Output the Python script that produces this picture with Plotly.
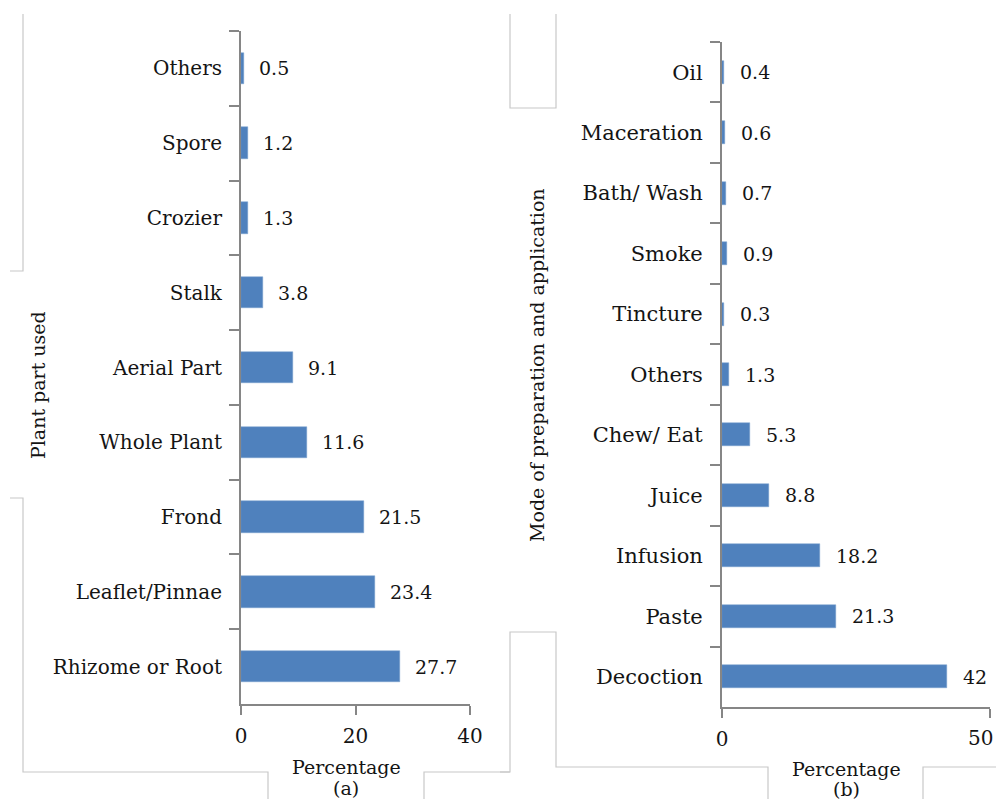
import plotly.graph_objects as go

# browser body has an 8px margin; the visible figure area is (8, 8)-(996, 799)
OFF = 8
W, H = 1004 - 2 * OFF, 807 - 2 * OFF

# ---- Data ----
parts = ["Others", "Spore", "Crozier", "Stalk", "Aerial Part", "Whole Plant",
         "Frond", "Leaflet/Pinnae", "Rhizome or Root"]
parts_pct = [0.5, 1.2, 1.3, 3.8, 9.1, 11.6, 21.5, 23.4, 27.7]

modes = ["Oil", "Maceration", "Bath/ Wash", "Smoke", "Tincture", "Others",
         "Chew/ Eat", "Juice", "Infusion", "Paste", "Decoction"]
modes_pct = [0.4, 0.6, 0.7, 0.9, 0.3, 1.3, 5.3, 8.8, 18.2, 21.3, 42]

ticks_a = [0, 20, 40]
ticks_b = [0, 50]

FONT = "DejaVu Serif"
BAR = "#4f81bd"
AXIS = "#868686"
FRAME = "#c8c8c8"
TXT = "#141414"


def px(x):
    return (x - OFF) / W


def py(y):
    return 1 - (y - OFF) / H


fig = go.Figure()

fig.add_trace(go.Bar(
    x=parts_pct, y=parts, orientation="h", width=0.42,
    marker=dict(color=BAR, line=dict(color="#7aa0cf", width=0.5)),
    xaxis="x", yaxis="y", showlegend=False, hoverinfo="skip"))

fig.add_trace(go.Bar(
    x=modes_pct, y=modes, orientation="h", width=0.38,
    marker=dict(color=BAR, line=dict(color="#7aa0cf", width=0.5)),
    xaxis="x2", yaxis="y2", showlegend=False, hoverinfo="skip"))

annotations = []
for v, c in zip(parts_pct, parts):
    annotations.append(dict(x=v, y=c, xref="x", yref="y", text=f"{v:g}",
                            showarrow=False, xanchor="left", xshift=13,
                            font=dict(family=FONT, size=19, color=TXT)))
for v, c in zip(modes_pct, modes):
    annotations.append(dict(x=v, y=c, xref="x2", yref="y2", text=f"{v:g}",
                            showarrow=False, xanchor="left", xshift=14,
                            font=dict(family=FONT, size=19, color=TXT)))

# last tick label of panel (b) sits at the right page edge: anchor it inside
annotations.append(dict(x=ticks_b[-1], y=py(738), xref="x2", yref="paper",
                        text=f"{ticks_b[-1]}", showarrow=False,
                        xanchor="right", yanchor="middle", xshift=5,
                        font=dict(family=FONT, size=20, color=TXT)))

# axis titles
ttl = dict(family=FONT, size=19, color=TXT)
annotations += [
    dict(x=px(346), y=py(767), xref="paper", yref="paper", text="Percentage",
         xanchor="center", yanchor="middle", showarrow=False, font=ttl),
    dict(x=px(346), y=py(788), xref="paper", yref="paper", text="(a)",
         xanchor="center", yanchor="middle", showarrow=False, font=ttl),
    dict(x=px(846), y=py(769), xref="paper", yref="paper", text="Percentage",
         xanchor="center", yanchor="middle", showarrow=False, font=ttl),
    dict(x=px(846), y=py(789), xref="paper", yref="paper", text="(b)",
         xanchor="center", yanchor="middle", showarrow=False, font=ttl),
    dict(x=px(38), y=py(385), xref="paper", yref="paper", text="Plant part used",
         textangle=-90, xanchor="center", yanchor="middle", showarrow=False,
         font=ttl),
    dict(x=px(537), y=py(365), xref="paper", yref="paper",
         text="Mode of preparation and application", textangle=-90,
         xanchor="center", yanchor="middle", showarrow=False, font=ttl),
]

# decorative frame fragments (cropped boxes in the source image)
segments = [
    [(23, 14), (23, 271), (10, 271)],
    [(10, 498), (23, 498), (23, 772), (268, 772), (268, 807)],
    [(424, 807), (424, 772), (510, 772), (510, 632), (556, 632), (556, 767),
     (768, 767), (768, 807)],
    [(500, 772), (510, 772)],
    [(510, 14), (510, 108), (556, 108), (556, 14)],
    [(923, 807), (923, 767), (1004, 767)],
]
shapes = []
for seg in segments:
    path = "M " + " L ".join(f"{px(x)},{py(y)}" for x, y in seg)
    shapes.append(dict(type="path", xref="paper", yref="paper", path=path,
                       line=dict(color=FRAME, width=1.2), layer="below"))

tf_a = dict(family=FONT, size=20, color=TXT)
tf_b = dict(family=FONT, size=21, color=TXT)

common_x = dict(showgrid=False, zeroline=False, showline=True, linecolor=AXIS,
                linewidth=2, ticks="outside", ticklen=9, tickcolor=AXIS,
                tickwidth=2, automargin=False, fixedrange=True,
                ticklabelstandoff=4)
common_y = dict(showgrid=False, zeroline=False, showline=True, linecolor=AXIS,
                linewidth=2, ticks="outside", ticklen=10, tickcolor=AXIS,
                tickwidth=2, tickson="boundaries", automargin=False,
                fixedrange=True, ticklabelstandoff=13,
                autorange="reversed", categoryorder="array")

fig.update_layout(
    width=W, height=H,
    margin=dict(l=0, r=0, t=0, b=0),
    paper_bgcolor="white", plot_bgcolor="white",
    bargap=0,
    annotations=annotations,
    shapes=shapes,
    xaxis=dict(domain=[px(241), px(470)], range=[0, 40], tickvals=ticks_a,
               tickfont=tf_a, anchor="y", **common_x),
    yaxis=dict(domain=[py(704), py(31)], categoryarray=parts,
               tickfont=tf_a, anchor="x", **common_y),
    xaxis2=dict(domain=[px(722), px(990)], range=[0, 50], tickvals=ticks_b,
                ticktext=[str(t) for t in ticks_b[:-1]] + [" "],
                tickfont=tf_a, anchor="y2", **common_x),
    yaxis2=dict(domain=[py(707), py(42)], categoryarray=modes,
                tickfont=tf_b, anchor="x2", **common_y),
)

fig.write_html("out.html")
